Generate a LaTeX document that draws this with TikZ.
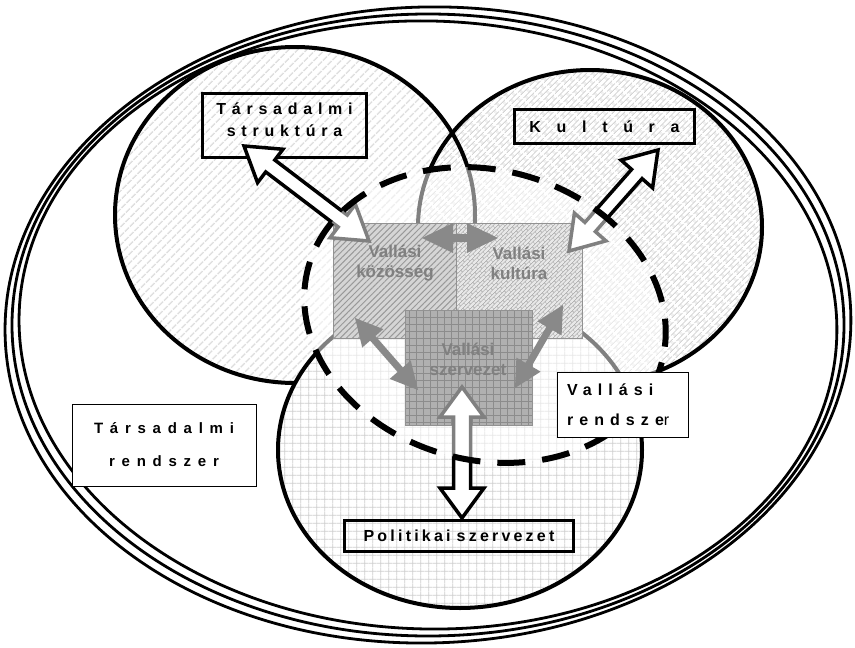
\documentclass[tikz,border=0pt]{standalone}
\usepackage{fontspec}
\setmainfont{Liberation Sans}
\newfontfamily\boldfam{Liberation Sans Bold}
\newfontfamily\regfam{Liberation Sans}
\usetikzlibrary{calc,patterns.meta}

\tikzdeclarepattern{
  name=gridA,
  bounding box={(0pt,0pt) and (8.3pt,8.3pt)},
  tile size={(8.3pt,8.3pt)},
  code={\draw[line width=0.9pt] (0pt,4.15pt) -- (8.3pt,4.15pt) (4.15pt,0pt) -- (4.15pt,8.3pt);}
}
\tikzdeclarepattern{
  name=gridB,
  bounding box={(0pt,0pt) and (7.4pt,7.4pt)},
  tile size={(7.4pt,7.4pt)},
  code={\draw[line width=0.9pt] (0pt,3.7pt) -- (7.4pt,3.7pt) (3.7pt,0pt) -- (3.7pt,7.4pt);}
}
\tikzdeclarepattern{
  name=brickA,
  bounding box={(0pt,0pt) and (12pt,8pt)},
  tile size={(12pt,8pt)},
  tile transformation={rotate=45},
  code={\draw[line width=0.9pt] (0pt,2pt) -- (12pt,2pt) (0pt,6pt) -- (12pt,6pt) (3pt,2pt) -- (3pt,6pt) (9pt,6pt) -- (9pt,8pt) (9pt,0pt) -- (9pt,2pt);}
}
\tikzdeclarepattern{
  name=brickB,
  bounding box={(0pt,0pt) and (9pt,6pt)},
  tile size={(9pt,6pt)},
  tile transformation={rotate=45},
  code={\draw[line width=0.8pt] (0pt,1.5pt) -- (9pt,1.5pt) (0pt,4.5pt) -- (9pt,4.5pt) (2.25pt,1.5pt) -- (2.25pt,4.5pt) (6.75pt,4.5pt) -- (6.75pt,6pt) (6.75pt,0pt) -- (6.75pt,1.5pt);}
}

\newcommand\lblfont[3]{\boldfam\fontsize{#1}{#2}\selectfont\addfontfeatures{LetterSpace=#3}}

% block double arrow between two named coordinates
% #1 style, #2 end A, #3 end B, #4 head length, #5 head half width, #6 shaft half width, #7 prefix
\newcommand\blockarr[7]{%
  \coordinate (#7ha) at ($(#2)!#4!(#3)$);
  \coordinate (#7hb) at ($(#3)!#4!(#2)$);
  \draw[#1] (#2) -- ($(#7ha)!#5!90:(#3)$) -- ($(#7ha)!#6!90:(#3)$)
    -- ($(#7hb)!#6!90:(#3)$) -- ($(#7hb)!#5!90:(#3)$) -- (#3)
    -- ($(#7hb)!#5!-90:(#3)$) -- ($(#7hb)!#6!-90:(#3)$)
    -- ($(#7ha)!#6!-90:(#3)$) -- ($(#7ha)!#5!-90:(#3)$) -- cycle;
}

\begin{document}
\begin{tikzpicture}[x=1pt,y=-1pt,
  outerline/.style={line width=2.8pt},
  ring/.style={line width=4pt},
  tbox/.style={draw=black, line width=3pt, inner sep=0pt},
  wbox/.style={draw=black, line width=0.8pt, fill=white, inner sep=0pt},
  ibox/.style={draw=black!85, line width=1pt, inner sep=0pt},
  itext/.style={font=\boldfam\fontsize{17}{20}\selectfont, align=center, text=black},
  openarr/.style={draw=black, fill=white, line width=3.5pt, line join=miter},
  solidarr/.style={fill=black!92, draw=none},
  dashring/.style={line width=6pt, dash pattern=on 28pt off 17pt}
]
\useasboundingbox (0,0) rectangle (855,648);
\fill[white] (0,0) rectangle (855,648);

\coordinate (oc) at (428,325);
\coordinate (lc) at (295,215);
\coordinate (rc) at (590,227);
\coordinate (bc) at (460,450);
\coordinate (vc) at (485,315);

% outer triple ellipse (Tarsadalmi rendszer)
\draw[outerline, rotate around={1.5:(oc)}] (oc) ellipse [x radius=423, y radius=318];
\draw[outerline] (oc) ellipse [x radius=416, y radius=311];
\draw[outerline, rotate around={-1.5:(oc)}] (oc) ellipse [x radius=409, y radius=304];

% three circles
\fill[white] (lc) ellipse [x radius=180, y radius=168];
\fill[pattern={Lines[angle=45,distance=6.5pt,line width=1.8pt]}, pattern color=black!13] (lc) ellipse [x radius=180, y radius=168];
\fill[white] (rc) ellipse [x radius=172, y radius=157];
\fill[pattern=brickA, pattern color=black!17] (rc) ellipse [x radius=172, y radius=157];
\draw[ring] (lc) ellipse [x radius=180, y radius=168];
\draw[ring] (rc) ellipse [x radius=172, y radius=157];
\fill[white] (bc) ellipse [x radius=182, y radius=158];
\fill[pattern=gridA, pattern color=black!19] (bc) ellipse [x radius=182, y radius=158];
\draw[ring] (bc) ellipse [x radius=182, y radius=158];

% label boxes
\node[tbox, minimum width=164pt, minimum height=64pt, text depth=11pt, align=center,
      font={\lblfont{16}{22}{36}}] (struct) at (284.5,125.5) {Társadalmi\\struktúra};
\node[tbox, minimum width=180pt, minimum height=34pt, font={\lblfont{16}{20}{98}}] (kult) at (604.5,126.5) {Kultúra};
\node[tbox, minimum width=229pt, minimum height=31pt, font={\lblfont{16}{20}{20}}] (polit) at (459,536) {Politikai\hspace{-1.5pt} szervezet};

% inner boxes
\node[ibox, minimum width=123pt, minimum height=115pt, fill=black!33,
  path picture={\fill[pattern={Lines[angle=45,distance=4.3pt,line width=1pt]}, pattern color=black!80]
    (path picture bounding box.south west) rectangle (path picture bounding box.north east);}] (kozos) at (394.5,280.5) {};
\node[ibox, minimum width=126pt, minimum height=115pt, fill=black!18,
  path picture={\fill[pattern=brickB, pattern color=black!60]
    (path picture bounding box.south west) rectangle (path picture bounding box.north east);}] (vkult) at (519,280.5) {};
\node[ibox, minimum width=127pt, minimum height=115pt, fill=black!62,
  path picture={\fill[pattern=gridB, pattern color=black!90]
    (path picture bounding box.south west) rectangle (path picture bounding box.north east);}] (szerv) at (468.5,367.5) {};

\node[itext] (tkozos) at (395,263) {Vallási\\közösség};
\node[itext] (tvkult) at (519,263) {Vallási\\kultúra};
\node[itext] (tszerv) at (468,359) {Vallási\\szervezet};

% arrow end points
\coordinate (a1s) at (244,146);  \coordinate (a1k) at (369,241);
\coordinate (a2s) at (658,150);  \coordinate (a2k) at (569,251);
\coordinate (a3s) at (462,518);  \coordinate (a3k) at (462,387);
\coordinate (bak) at (422,238);  \coordinate (bav) at (498,238);
\coordinate (bbk) at (355,318);  \coordinate (bbs) at (418,390);
\coordinate (bcv) at (563,305);  \coordinate (bcs) at (515,388);

\blockarr{openarr}{a1s}{a1k}{33pt}{21pt}{7.5pt}{p}
\blockarr{openarr}{a2s}{a2k}{32pt}{21pt}{7pt}{q}
\blockarr{openarr}{a3s}{a3k}{30pt}{22pt}{8.5pt}{r}
\blockarr{solidarr}{bak}{bav}{31pt}{15pt}{4pt}{s}
\blockarr{solidarr}{bbk}{bbs}{27pt}{14pt}{3.5pt}{t}
\blockarr{solidarr}{bcv}{bcs}{27pt}{14pt}{3.5pt}{u}

% Vallasi rendszer: light veil and dashed border
\fill[white, fill opacity=0.5, rotate around={-15:(vc)}] (vc) ellipse [x radius=183, y radius=145];
\draw[dashring, rotate around={-15:(vc)}] (vc) ellipse [x radius=183, y radius=145];

\node[wbox, minimum width=131pt, minimum height=65pt, text width=111pt, align=left,
      font={\lblfont{16}{30}{38}}] (vrend) at (622.5,404.5) {Vallási\\rendsze{\regfam\addfontfeatures{LetterSpace=38}r}};
\node[wbox, minimum width=184pt, minimum height=82pt, align=center,
      font={\lblfont{15}{33}{45}}] (trend) at (164,445) {Társadalmi\\rendszer};
\end{tikzpicture}
\end{document}
